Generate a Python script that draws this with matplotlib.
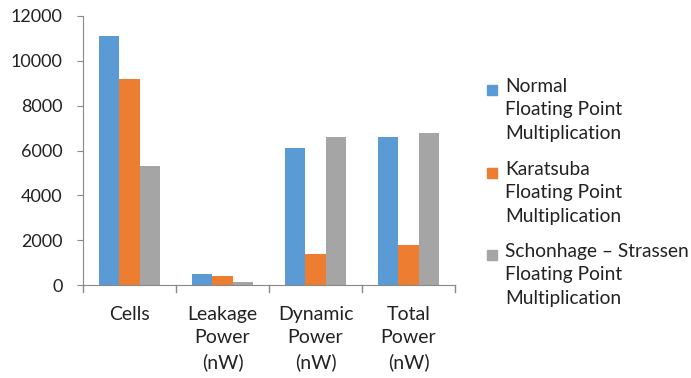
import numpy as np
import matplotlib
matplotlib.use("Agg")
import matplotlib.pyplot as plt
from matplotlib.patches import Rectangle

plt.rcParams['font.family'] = ['Lato', 'DejaVu Sans']

# data
categories = ["Cells", "Leakage\nPower\n(nW)", "Dynamic\nPower\n(nW)", "Total\nPower\n(nW)"]
normal = [11100, 490, 6110, 6580]
karatsuba = [9170, 400, 1380, 1770]
schonhage = [5330, 130, 6590, 6760]
series_names = ["Normal\nFloating Point\nMultiplication",
                "Karatsuba\nFloating Point\nMultiplication",
                "Schonhage \u2013 Strassen\nFloating Point\nMultiplication"]
colors = ["#5B9BD5", "#ED7D31", "#A5A5A5"]

fig = plt.figure(figsize=(6.91, 3.78), dpi=100)
W, H = 691, 378
ax = fig.add_axes([83 / W, 1 - 285 / H, (455 - 83) / W, (285 - 16) / H])

x = np.arange(len(categories))
bw = 0.22
for i, vals in enumerate([normal, karatsuba, schonhage]):
    ax.bar(x + (i - 1) * bw, vals, width=bw, color=colors[i])

ax.set_xlim(-0.5, len(categories) - 0.5)
ax.set_ylim(0, 12000)
ax.set_yticks(range(0, 12001, 2000))
ax.tick_params(axis='y', labelsize=13, length=4.5, color='#888888', pad=10, labelcolor='#222222')

# category labels and boundary ticks
ax.set_xticks(x)
ax.set_xticklabels(categories, fontsize=14, linespacing=1.45, color='#222222')
ax.tick_params(axis='x', length=0, pad=15)
for b in np.arange(-0.5, len(categories), 1.0):
    ax.plot([b, b], [0, -0.025], transform=ax.get_xaxis_transform(), color='#888888',
            lw=1, clip_on=False)

for s in ['top', 'right']:
    ax.spines[s].set_visible(False)
for s in ['left', 'bottom']:
    ax.spines[s].set_color('#888888')

# legend, drawn by hand so the swatch sits on the first line
tops = [90, 173, 255]
for name, c, ty in zip(series_names, colors, tops):
    fig.patches.append(Rectangle((487 / W, 1 - (ty + 5) / H), 10 / W, 10 / H,
                                 transform=fig.transFigure, color=c))
    fig.text(505 / W, 1 - (ty - 12) / H, name, fontsize=13.8, va='top', ha='left',
             linespacing=1.45, color='#222222')

fig.savefig("out.png", dpi=100)
